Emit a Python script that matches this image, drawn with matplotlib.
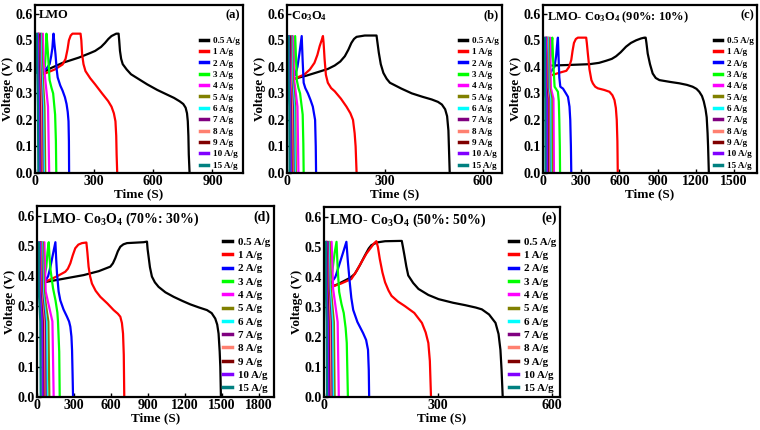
import matplotlib
matplotlib.use("Agg")
import matplotlib.pyplot as plt

plt.rcParams['font.family'] = ['Liberation Serif', 'DejaVu Serif']
plt.rcParams['font.weight'] = 'bold'
plt.rcParams['axes.labelweight'] = 'bold'
plt.rcParams['mathtext.fontset'] = 'custom'
plt.rcParams['mathtext.rm'] = 'Liberation Serif:bold'
plt.rcParams['mathtext.default'] = 'rm'

rates = ["0.5 A/g", "1 A/g", "2 A/g", "3 A/g", "4 A/g", "5 A/g",
         "6 A/g", "7 A/g", "8 A/g", "9 A/g", "10 A/g", "15 A/g"]
colors = ["#000000", "#ff0000", "#0000ff", "#00ff00", "#ff00ff", "#808000",
          "#00ffff", "#800080", "#ff8070", "#800000", "#8000ff", "#008080"]

# ---- (a) LMO ----
a_t05 = [30, 80, 140, 223, 280, 305, 335, 355, 372, 388, 412, 424, 427, 431, 437, 445, 465, 487, 530, 569,
         620, 668, 705, 734, 752, 764, 771, 775, 778, 780, 784]
a_v05 = [0.375, 0.395, 0.415, 0.435, 0.452, 0.46, 0.475, 0.49, 0.505, 0.516, 0.525, 0.525, 0.50, 0.46, 0.43,
         0.41, 0.39, 0.372, 0.352, 0.334, 0.313, 0.296, 0.283, 0.27, 0.26, 0.246, 0.225, 0.195, 0.14, 0.07, 0.0]
a_t1 = [41, 100, 140, 155, 165, 172, 181, 190, 231, 235, 239, 246, 256, 280, 305, 340, 371, 388, 400, 408,
        412, 414, 417]
a_v1 = [0.372, 0.39, 0.409, 0.43, 0.466, 0.50, 0.518, 0.525, 0.525, 0.50, 0.447, 0.41, 0.384, 0.357, 0.334,
        0.30, 0.271, 0.25, 0.225, 0.195, 0.14, 0.069, 0.0]
a_t2 = [38, 60, 74, 82, 88, 92, 94, 98, 104, 110, 115, 128, 140, 152, 160, 166, 170, 172, 173]
a_v2 = [0.38, 0.395, 0.41, 0.44, 0.47, 0.51, 0.525, 0.49, 0.447, 0.39, 0.36, 0.33, 0.31, 0.285, 0.26, 0.23,
        0.195, 0.12, 0.0]
a_t3 = [30, 50, 55, 58, 62, 66, 74, 84, 92, 102, 106, 108]
a_v3 = [0.38, 0.40, 0.46, 0.525, 0.49, 0.447, 0.35, 0.32, 0.30, 0.22, 0.12, 0.0]
a_fast_v = [0.38, 0.525, 0.42, 0.25, 0.0]
a_fast_t = [[22, 40, 43, 66, 72], [18, 32, 35, 48, 52], [15, 28, 30, 41, 45],
            [12, 24, 26, 35, 38], [10, 20, 22, 30, 33], [8, 17, 19, 25, 28],
            [6, 14, 16, 21, 24], [3, 9, 11, 15, 17]]

# ---- (b) Co3O4 ----
b_t05 = [22, 60, 94, 125, 146, 163, 177, 188, 197, 205, 213, 238, 274, 277, 281, 287, 295, 305, 315, 350,
         382, 415, 443, 462, 474, 484, 490, 494, 496, 498]
b_v05 = [0.355, 0.367, 0.38, 0.392, 0.405, 0.42, 0.44, 0.465, 0.49, 0.505, 0.513, 0.518, 0.518, 0.49, 0.453,
         0.41, 0.377, 0.355, 0.34, 0.318, 0.30, 0.287, 0.277, 0.268, 0.258, 0.24, 0.214, 0.16, 0.08, 0.0]
b_t1 = [22, 53, 70, 84, 93, 100, 106, 110, 112, 115, 119, 125, 135, 146, 165, 182, 194, 202, 207, 210, 213]
b_v1 = [0.355, 0.371, 0.39, 0.415, 0.445, 0.478, 0.50, 0.516, 0.49, 0.43, 0.37, 0.34, 0.32, 0.308, 0.28,
        0.25, 0.225, 0.20, 0.15, 0.10, 0.0]
b_t2 = [25, 32, 38, 45, 48, 51, 56, 64, 72, 79, 86, 88, 89]
b_v2 = [0.37, 0.40, 0.45, 0.516, 0.42, 0.34, 0.32, 0.30, 0.275, 0.25, 0.20, 0.10, 0.0]
b_t3 = [15, 21, 25, 28, 30, 35, 40, 48, 50, 51]
b_v3 = [0.36, 0.42, 0.516, 0.42, 0.35, 0.32, 0.30, 0.22, 0.11, 0.0]
b_fast_v = [0.36, 0.516, 0.35, 0.25, 0.0]
b_fast_t = [[10, 18, 22, 32, 35], [8, 15, 18, 25, 27], [7, 13, 15, 22, 24],
            [6, 11, 13, 18, 20], [5, 9, 11, 15, 17], [4, 8, 9, 12, 14],
            [3, 6, 8, 10, 12], [2, 4, 5, 7, 8]]

# ---- (c) 90:10 ----
c_t05 = [75, 200, 365, 440, 496, 540, 574, 610, 652, 690, 731, 770, 796, 806, 812, 822, 840, 861, 885, 914,
         1000, 1070, 1130, 1175, 1205, 1227, 1248, 1262, 1276, 1285, 1292, 1296, 1302]
c_v05 = [0.405, 0.407, 0.41, 0.415, 0.423, 0.43, 0.44, 0.455, 0.476, 0.49, 0.50, 0.507, 0.51, 0.51, 0.49,
         0.45, 0.41, 0.375, 0.358, 0.35, 0.343, 0.338, 0.332, 0.325, 0.317, 0.306, 0.29, 0.27, 0.24, 0.21,
         0.15, 0.10, 0.0]
c_t1 = [78, 130, 183, 205, 222, 232, 243, 258, 274, 339, 344, 352, 365, 380, 392, 410, 431, 480, 522, 545,
        561, 572, 579, 584, 587]
c_v1 = [0.37, 0.378, 0.385, 0.40, 0.426, 0.46, 0.49, 0.505, 0.51, 0.51, 0.49, 0.45, 0.39, 0.35, 0.337,
        0.325, 0.319, 0.313, 0.306, 0.293, 0.275, 0.245, 0.20, 0.12, 0.0]
c_t2 = [60, 90, 103, 110, 117, 122, 128, 136, 157, 180, 196, 208, 214, 219, 222]
c_v2 = [0.38, 0.40, 0.44, 0.48, 0.51, 0.44, 0.36, 0.325, 0.318, 0.30, 0.287, 0.25, 0.20, 0.10, 0.0]
c_t3 = [45, 60, 65, 73, 80, 91, 105, 117, 124, 128, 132, 134]
c_v3 = [0.38, 0.44, 0.48, 0.51, 0.42, 0.325, 0.315, 0.306, 0.27, 0.20, 0.10, 0.0]
c_fast_v = [0.36, 0.51, 0.32, 0.28, 0.0]
c_fast_t = [[30, 55, 62, 82, 86], [25, 45, 51, 68, 72], [20, 38, 43, 57, 60],
            [17, 32, 36, 47, 50], [14, 28, 31, 41, 44], [12, 24, 27, 35, 38],
            [10, 20, 22, 30, 32], [6, 12, 14, 18, 20]]

# ---- (d) 70:30 ----
d_t05 = [81, 230, 378, 500, 594, 615, 634, 655, 675, 700, 729, 864, 891, 896, 904, 915, 931, 955, 985, 1040,
         1107, 1180, 1242, 1310, 1377, 1415, 1444, 1460, 1471, 1480, 1485, 1490]
d_v05 = [0.382, 0.393, 0.404, 0.417, 0.432, 0.443, 0.46, 0.483, 0.498, 0.506, 0.51, 0.513, 0.515, 0.49,
         0.465, 0.43, 0.399, 0.38, 0.365, 0.347, 0.332, 0.318, 0.307, 0.297, 0.288, 0.278, 0.26, 0.24, 0.21,
         0.15, 0.10, 0.0]
d_t1 = [27, 100, 162, 229, 250, 270, 290, 310, 335, 364, 400, 408, 418, 430, 445, 475, 513, 570, 621, 655,
        675, 688, 697, 703, 707]
d_v1 = [0.376, 0.388, 0.40, 0.415, 0.425, 0.443, 0.47, 0.493, 0.505, 0.51, 0.512, 0.48, 0.432, 0.40, 0.376,
        0.352, 0.332, 0.31, 0.288, 0.276, 0.266, 0.245, 0.21, 0.14, 0.0]
d_t2 = [60, 90, 108, 130, 149, 155, 162, 175, 189, 215, 243, 260, 270, 279, 284, 288, 292]
d_v2 = [0.38, 0.40, 0.43, 0.475, 0.513, 0.46, 0.41, 0.35, 0.32, 0.29, 0.266, 0.25, 0.233, 0.20, 0.155,
        0.08, 0.0]
d_t3 = [50, 75, 85, 95, 102, 110, 130, 150, 165, 170, 180, 184]
d_v3 = [0.38, 0.43, 0.48, 0.513, 0.46, 0.42, 0.36, 0.32, 0.28, 0.25, 0.15, 0.0]
d_fast_v = [0.38, 0.513, 0.35, 0.25, 0.0]
d_fast_t = [[30, 60, 70, 125, 135], [25, 48, 56, 92, 100], [20, 40, 47, 76, 82],
            [17, 34, 40, 64, 70], [14, 28, 33, 55, 60], [12, 24, 28, 47, 52],
            [10, 20, 24, 41, 45], [6, 12, 15, 27, 30]]

# ---- (e) 50:50 ----
e_t05 = [15, 35, 55, 70, 81, 95, 108, 118, 125, 140, 161, 200, 205, 208, 212, 217, 222, 235, 249, 275, 302,
         340, 372, 400, 416, 435, 452, 460, 465, 468, 471]
e_v05 = [0.365, 0.375, 0.388, 0.398, 0.41, 0.44, 0.472, 0.495, 0.506, 0.515, 0.519, 0.52, 0.52, 0.50, 0.472,
         0.435, 0.405, 0.38, 0.36, 0.34, 0.326, 0.314, 0.306, 0.298, 0.292, 0.275, 0.247, 0.21, 0.157, 0.09, 0.0]
e_t1 = [15, 45, 72, 86, 99, 112, 125, 132, 138, 142, 147, 154, 161, 170, 178, 195, 213, 238, 258, 268, 275,
        279, 282]
e_v1 = [0.365, 0.378, 0.393, 0.42, 0.45, 0.478, 0.50, 0.512, 0.519, 0.50, 0.46, 0.415, 0.382, 0.355, 0.337,
        0.318, 0.303, 0.28, 0.247, 0.215, 0.18, 0.12, 0.0]
e_t2 = [19, 30, 40, 50, 59, 63, 68, 72, 77, 88, 103, 111, 116, 118, 119]
e_v2 = [0.38, 0.40, 0.44, 0.48, 0.517, 0.45, 0.38, 0.33, 0.29, 0.25, 0.213, 0.19, 0.157, 0.09, 0.0]
e_t3 = [12, 22, 28, 33, 36, 40, 46, 52, 57, 60, 63]
e_v3 = [0.37, 0.42, 0.48, 0.517, 0.43, 0.35, 0.31, 0.28, 0.23, 0.18, 0.0]
e_fast_v = [0.37, 0.517, 0.36, 0.25, 0.0]
e_fast_t = [[8, 20, 24, 36, 39], [6, 15, 18, 26, 28], [5, 12, 15, 22, 24],
            [4, 10, 12, 18, 20], [3, 8, 10, 15, 17], [3, 7, 9, 12, 14],
            [2, 6, 7, 10, 12], [1, 4, 5, 7, 8]]


def panel(rect, main, fast_t, fast_v, xmax, xticks, name, tag, legsize, namesize, legspace):
    ax = fig.add_axes(rect)
    curves = list(main) + [(t, fast_v) for t in fast_t]
    for (t, v), c, lab in zip(curves, colors, rates):
        ax.plot(t, v, color=c, lw=1.6, label=lab, solid_joinstyle='round')
    ax.set_xlim(0, xmax)
    ax.set_ylim(0, 0.633)
    ax.set_xticks(xticks)
    ax.set_yticks([0.0, 0.1, 0.2, 0.3, 0.4, 0.5, 0.6])
    ax.set_yticklabels(["0.0", "0.1", "0.2", "0.3", "0.4", "0.5", "0.6"])
    ax.tick_params(direction='in', length=3, width=1, labelsize=10, pad=1.5)
    for s in ax.spines.values():
        s.set_linewidth(1.6)
    ax.set_xlabel("Time (S)", fontsize=9.5, labelpad=0)
    ax.set_ylabel("Voltage (V)", fontsize=9.5, labelpad=1)
    ax.text(0.02, 0.975, name, transform=ax.transAxes, ha='left', va='top', fontsize=namesize)
    ax.text(0.985, 0.975, tag, transform=ax.transAxes, ha='right', va='top', fontsize=namesize)
    leg = ax.legend(loc='lower right', bbox_to_anchor=(1.0, 0.0), frameon=False,
                    fontsize=legsize, handlelength=0.9, handletextpad=0.5,
                    labelspacing=legspace, borderaxespad=0.15, borderpad=0.2)
    for h in leg.get_lines():
        h.set_linewidth(2.5)
    return ax


fig = plt.figure(figsize=(7.6, 4.3), dpi=100)
W, H = 760.0, 430.0

def rect(l, r, t, b):
    return [l / W, 1 - b / H, (r - l) / W, (b - t) / H]

panel(rect(35, 243, 5, 173), [(a_t05, a_v05), (a_t1, a_v1), (a_t2, a_v2), (a_t3, a_v3)],
      a_fast_t, a_fast_v, 1055, [0, 300, 600, 900], "LMO", "(a)", 6.6, 9, 0.32)
panel(rect(287, 502, 5, 173), [(b_t05, b_v05), (b_t1, b_v1), (b_t2, b_v2), (b_t3, b_v3)],
      b_fast_t, b_fast_v, 658, [0, 300, 600], "Co$_3$O$_4$", "(b)", 6.6, 9, 0.32)
panel(rect(543, 757, 5, 173), [(c_t05, c_v05), (c_t1, c_v1), (c_t2, c_v2), (c_t3, c_v3)],
      c_fast_t, c_fast_v, 1680, [0, 300, 600, 900, 1200, 1500],
      "LMO- Co$_3$O$_4$ (90%: 10%)", "(c)", 6.6, 9, 0.32)
panel(rect(37, 274, 206, 397), [(d_t05, d_v05), (d_t1, d_v1), (d_t2, d_v2), (d_t3, d_v3)],
      d_fast_t, d_fast_v, 1920, [0, 300, 600, 900, 1200, 1500, 1800],
      "LMO- Co$_3$O$_4$ (70%: 30%)", "(d)", 7.9, 10, 0.33)
panel(rect(324, 560, 207, 397), [(e_t05, e_v05), (e_t1, e_v1), (e_t2, e_v2), (e_t3, e_v3)],
      e_fast_t, e_fast_v, 622, [0, 300, 600],
      "LMO- Co$_3$O$_4$ (50%: 50%)", "(e)", 7.9, 10, 0.33)

fig.savefig("out.png", dpi=100)
